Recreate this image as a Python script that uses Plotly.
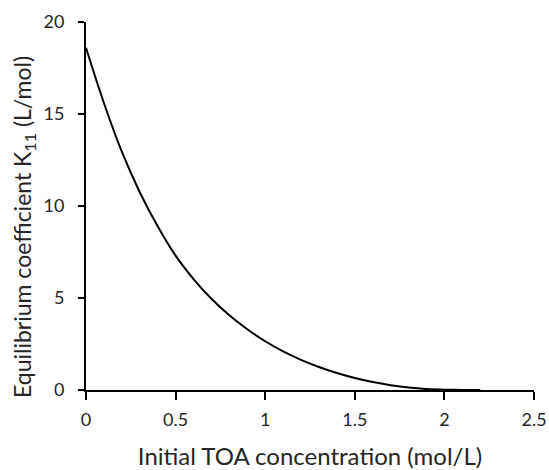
import plotly.graph_objects as go

# initial TOA concentration (mol/L) and K11 (L/mol)
toa_conc = [0.0, 0.1, 0.2, 0.3, 0.4, 0.5, 0.6, 0.7, 0.8, 0.9, 1.0, 1.1,
            1.2, 1.3, 1.4, 1.5, 1.6, 1.7, 1.8, 1.9, 2.0, 2.1, 2.2]
k11 = [18.6, 15.6, 12.95, 10.75, 8.9, 7.3, 6.03, 4.96, 4.06, 3.30, 2.65, 2.10,
       1.64, 1.25, 0.92, 0.65, 0.43, 0.26, 0.13, 0.05, 0.02, 0.005, 0.0]

x_ticks = [0, 0.5, 1, 1.5, 2, 2.5]
y_ticks = [0, 5, 10, 15, 20]

fig = go.Figure()
fig.add_trace(go.Scatter(x=toa_conc, y=k11, mode="lines",
                         line=dict(color="black", width=2, shape="spline", smoothing=1.0),
                         showlegend=False))

fig.update_layout(
    width=549, height=470,
    margin=dict(l=86, r=15, t=22, b=80),
    plot_bgcolor="white", paper_bgcolor="white",
    font=dict(family="Lato", size=18, color="#262626"),
)
fig.update_xaxes(range=[0, 2.5], tickvals=x_ticks, ticktext=["0", "0.5", "1", "1.5", "2", "2.5"],
                 automargin=False, ticklabeloverflow="allow",
                 showline=True, linecolor="black", linewidth=2,
                 ticks="outside", ticklen=8, tickwidth=2, tickcolor="black",
                 ticklabelstandoff=4,
                 showgrid=False, zeroline=False,
                 title=dict(text="Initial TOA concentration (mol/L)", standoff=23,
                            font=dict(size=24)))
fig.update_yaxes(range=[0, 20], tickvals=y_ticks, automargin=False,
                 showline=True, linecolor="black", linewidth=2,
                 ticks="outside", ticklen=6, tickwidth=2, tickcolor="black",
                 ticklabelstandoff=10,
                 showgrid=False, zeroline=False)

# y title as an annotation so it can sit a little below the plot centre
fig.add_annotation(text="Equilibrium coefficient K<sub>11</sub> (L/mol)",
                   xref="paper", yref="paper", x=0, y=0.5,
                   xanchor="center", yanchor="middle",
                   xshift=-63, yshift=-21, textangle=-90,
                   showarrow=False, font=dict(size=23))

# drop the default 8px page margin so the figure fills the window
fig.write_html("out.html", config={"displayModeBar": False},
               post_script="document.body.style.margin='0';"
                           "document.body.style.overflow='hidden';")
